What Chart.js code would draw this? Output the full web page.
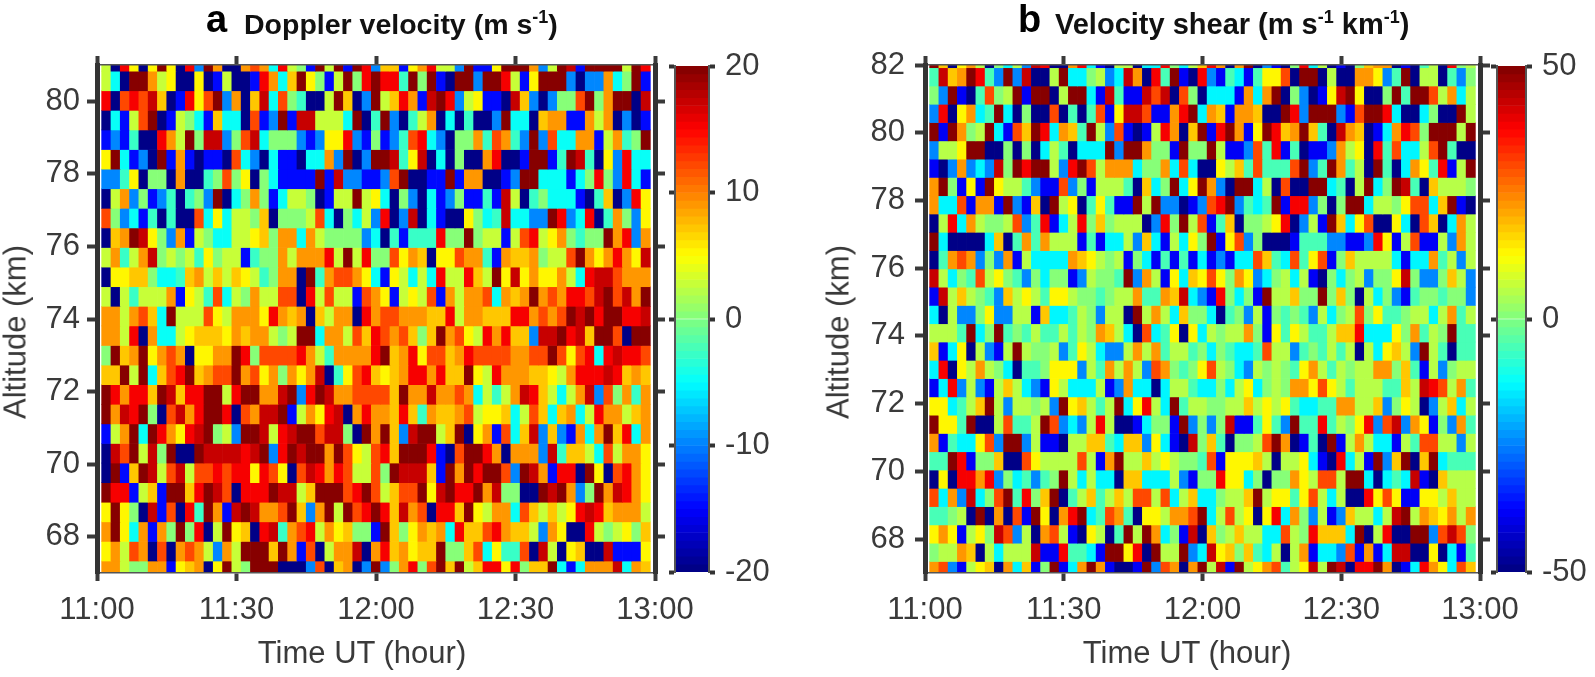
<!DOCTYPE html>
<html>
<head>
<meta charset="utf-8">
<title>Doppler velocity and velocity shear</title>
<script src="https://cdn.jsdelivr.net/npm/chart.js@4/dist/chart.umd.min.js"></script>
<style>
  html, body { margin: 0; padding: 0; background: #fff; }
  body { position: relative; width: 1595px; height: 677px; overflow: hidden; font-family: "Liberation Sans", Arial, sans-serif; }
  canvas { position: absolute; top: 0; }
  .txt { position: absolute; white-space: nowrap; line-height: 1; }
  .letter { font-size: 38px; font-weight: bold; color: #000; }
  .head { font-size: 28.5px; font-weight: bold; color: #111; }
  .head sup { font-size: 18px; line-height: 0; vertical-align: 11px; }
  .axis { font-size: 31px; color: #3a3a3a; }
  .rot { transform: translate(-50%, -50%) rotate(-90deg); }
  .mid { transform: translateX(-50%); }
</style>
</head>
<body>
<canvas id="velocity" width="700" height="677" style="left:0"></canvas>
<canvas id="velocity-bar" width="110" height="677" style="left:668px"></canvas>
<canvas id="shear" width="700" height="677" style="left:820px"></canvas>
<canvas id="shear-bar" width="105" height="677" style="left:1490px"></canvas>

<div class="txt letter" style="left:206px;top:0px">a</div>
<div class="txt head" style="left:244px;top:10px">Doppler velocity (m s<sup>-1</sup>)</div>
<div class="txt letter" style="left:1018px;top:0px">b</div>
<div class="txt head" style="left:1055px;top:10px;font-size:29px">Velocity shear (m s<sup>-1</sup> km<sup>-1</sup>)</div>
<div class="txt axis rot" style="left:15px;top:332px">Altitude (km)</div>
<div class="txt axis rot" style="left:838px;top:332px">Altitude (km)</div>
<div class="txt axis mid" style="left:362px;top:637px">Time UT (hour)</div>
<div class="txt axis mid" style="left:1187px;top:637px">Time UT (hour)</div>

<script>
"use strict";

// Minutes after 11:00 at the centre of each 2-minute column.
const timeMinutes = [2,4,6,8,10,12,14,16,18,20,22,24,26,28,30,32,34,36,38,40,42,44,46,48,50,52,54,56,58,60,
  62,64,66,68,70,72,74,76,78,80,82,84,86,88,90,92,94,96,98,100,102,104,106,108,110,112,114,116,118];
const xTickLabels = ["11:00", "11:30", "12:00", "12:30", "13:00"];
const velocityTicks = [68, 70, 72, 74, 76, 78, 80];
const shearTicks = [68, 70, 72, 74, 76, 78, 80, 82];
const barLevels = [0,1,2,3,4,5,6,7,8,9,10,11,12,13,14,15,16,17,18,19,20,21,22,23,24,25,26,27,28,29,30,31,
  32,33,34,35,36,37,38,39,40,41,42,43,44,45,46,47,48,49,50,51,52,53,54,55,56,57,58,59,60,61,62,63];

// Range-gate centres (km), top row first.
const velocityAltitudes = [81.10,80.56,80.02,79.48,78.94,78.40,77.86,77.32,76.78,76.24,75.70,75.16,74.62,74.08,
  73.54,73.00,72.46,71.92,71.38,70.84,70.30,69.76,69.22,68.68,68.14,67.60,67.06];
const shearAltitudes = [82.19,81.65,81.11,80.57,80.03,79.49,78.95,78.41,77.87,77.33,76.79,76.25,75.71,75.17,74.63,
  74.09,73.55,73.01,72.47,71.93,71.39,70.85,70.31,69.77,69.23,68.69,68.15,67.61,67.07];

// Doppler velocity (m/s), one line per altitude, top first.
const velocityValues = [
  [3,-20,15,5,-20,5,20,5,-20,15,-10,20,9,-20,-20,9,12,9,-5,15,3,0,-15,20,3,20,-15,20,15,-10,7,7,-15,5,9,15,3,3,-10,20,-15,-15,5,20,20,20,9,-10,3,20,17,-15,20,20,20,20,3,20,15],
  [3,-5,-20,20,20,9,3,5,-20,-20,5,-20,-15,3,-20,-20,-15,15,9,-5,7,20,5,0,-15,3,20,0,15,20,15,15,-3,20,0,20,-15,-20,20,20,-10,20,20,15,3,-15,5,20,20,20,-10,-20,-10,-10,9,-5,0,20,-15],
  [15,-20,12,15,12,17,7,-20,-15,15,5,12,20,-10,9,-20,7,17,-5,12,0,-3,-20,-20,3,20,7,-20,-10,20,3,7,15,9,-15,17,20,15,-10,3,5,-15,-15,-20,17,7,-10,-20,-10,0,0,12,20,0,9,20,20,-20,17],
  [-20,-5,-15,3,12,20,-20,-15,3,0,-5,-15,7,-5,-5,-20,12,-15,-10,20,-15,17,17,3,3,3,-5,20,-20,-3,20,-10,-20,-3,3,9,-20,-5,-20,-3,-20,-20,-10,20,-5,-5,-20,7,9,9,-15,-15,9,3,9,-20,-10,-20,-15],
  [-15,-10,-15,-3,-20,-20,15,9,3,20,0,17,17,-10,0,12,17,-5,0,0,0,-10,-15,-10,5,5,15,-10,-15,0,-15,-10,-3,12,15,-5,-10,-20,0,0,9,-3,12,9,-3,-10,20,-10,12,-5,-5,9,9,-15,3,9,-3,0,20],
  [5,20,-5,-15,-10,-20,20,-15,9,-15,-20,-15,-15,-20,12,-5,-10,-20,-5,-15,-15,-20,-5,-5,9,-10,20,-20,-10,20,20,17,-3,5,17,-20,-5,-20,0,-20,-20,9,15,-20,-20,-15,20,20,-15,-3,20,17,-3,-20,5,-10,15,-5,-5],
  [-10,-10,-3,5,-20,0,0,-20,9,-20,-20,-3,0,12,0,5,-20,0,-5,-15,-15,-15,-15,20,-15,17,-10,-10,-15,-15,-10,12,20,-20,-20,-15,-15,20,-15,9,9,-20,-20,-15,-10,20,20,-5,-5,-5,-15,-5,0,15,0,-10,15,-5,-15],
  [-20,3,9,-10,0,-15,-10,-3,-20,-3,0,-10,20,-20,-5,0,9,0,-15,-5,3,3,0,-20,-15,3,3,20,3,5,-5,-20,0,-10,-20,-5,-15,-10,0,-15,-15,-3,-15,17,3,-20,-3,0,-5,-5,-5,-15,-20,-3,7,-20,-10,15,5],
  [12,0,-10,-5,-15,-3,-20,-3,-20,-20,12,-5,5,-5,3,3,0,7,-20,0,0,0,3,12,-5,-20,0,-5,3,-10,15,-20,-10,17,-20,-5,-15,-20,-20,5,0,-5,-3,17,-5,-5,-10,-10,20,15,-10,-5,15,-20,-3,9,0,-10,5],
  [-20,7,9,20,17,5,0,-10,9,-15,3,0,-5,-5,3,3,5,7,0,9,9,-5,9,3,0,0,0,0,-10,-5,-20,-3,-15,-3,-3,-3,15,0,0,20,0,3,3,-15,3,12,15,3,5,9,0,-3,0,0,20,9,15,-10,9],
  [3,9,-3,3,9,17,0,3,0,3,-3,5,0,3,3,-15,-3,0,0,9,3,9,9,9,15,3,20,3,15,0,0,12,5,9,7,-20,5,5,12,9,9,-3,-15,9,7,7,9,0,3,3,12,20,9,5,9,15,9,5,17],
  [-20,5,5,7,7,0,-5,-5,-3,7,9,3,7,3,7,5,3,-3,0,9,9,-20,20,-3,9,12,12,9,5,-5,-15,5,3,-5,3,-5,15,3,3,15,7,3,20,5,17,5,9,5,5,9,3,-5,15,17,17,12,9,9,9],
  [3,-20,3,-3,3,3,3,9,-15,5,3,-3,12,-5,3,0,9,3,3,12,12,-20,15,3,12,3,3,-15,12,9,5,-15,3,5,3,12,-15,9,3,9,9,12,-5,9,7,9,20,9,12,9,15,15,12,17,20,12,17,9,20],
  [9,9,3,9,12,7,-5,20,3,3,3,12,5,3,9,9,9,5,15,9,7,9,-20,7,3,9,9,-20,15,9,12,12,9,9,9,7,7,15,3,9,9,7,7,7,15,15,9,12,9,12,20,17,20,15,20,20,15,15,17],
  [9,9,3,15,-20,9,-5,-5,3,5,7,7,7,5,9,7,9,9,3,0,3,20,20,-5,9,9,3,12,7,15,12,9,12,7,0,7,20,9,12,5,3,15,9,15,7,7,-10,17,17,20,15,17,7,20,20,12,-20,20,20],
  [0,20,7,9,20,5,9,12,9,-20,5,5,9,9,20,15,0,12,12,12,12,15,9,3,-3,9,9,9,9,15,20,7,9,15,5,12,12,7,9,15,12,12,12,12,9,9,12,12,20,12,5,12,15,-5,15,17,15,15,12],
  [7,7,20,3,20,-5,7,12,15,20,7,9,12,12,20,9,12,5,9,0,9,5,9,17,-20,-3,5,12,15,7,5,7,9,15,15,9,15,7,7,20,5,3,15,9,9,9,7,7,5,3,9,15,15,15,17,15,7,9,7],
  [20,15,9,15,15,7,20,17,7,15,15,20,20,3,15,20,20,9,9,17,20,-10,15,20,17,9,9,12,12,12,12,7,20,9,9,17,9,9,12,9,-5,3,-3,3,9,17,15,7,3,-5,3,9,17,-10,12,0,9,-3,9],
  [20,9,17,15,20,0,-20,12,17,9,15,20,20,15,-20,12,9,17,17,20,-15,3,9,5,15,17,-20,9,15,9,9,7,15,7,-3,9,7,7,9,12,3,5,5,7,-5,3,12,7,-5,7,9,-5,3,15,9,9,3,7,9],
  [-15,3,9,20,-5,20,15,9,5,15,17,20,0,3,-10,20,20,17,3,15,17,20,20,12,17,17,0,-20,20,9,20,7,-10,17,20,20,3,7,20,-20,5,9,-15,12,-5,7,17,-10,7,-10,-15,9,-5,9,20,7,15,-5,9],
  [-20,17,12,20,3,17,0,20,-20,-20,20,17,17,17,17,15,17,20,-10,15,20,17,20,20,9,20,12,5,3,12,15,7,20,20,20,15,-15,-20,12,20,20,15,9,-20,9,9,9,-10,17,-3,7,7,3,-5,12,3,9,9,5],
  [-20,20,-15,7,20,17,3,12,17,3,12,12,15,12,15,15,5,15,12,5,-20,12,17,15,9,15,12,3,3,12,0,20,17,17,17,7,-15,20,9,20,15,20,20,12,-10,20,17,9,-15,15,15,-20,20,5,-20,12,15,9,5],
  [20,15,15,-15,3,7,-15,20,20,7,15,20,17,12,-20,15,15,15,20,17,17,3,7,20,20,20,12,15,20,12,3,7,12,12,20,5,17,20,15,15,20,9,17,0,0,-20,-20,20,17,20,9,-10,0,20,9,17,15,9,5],
  [5,20,5,0,-20,17,-15,12,-20,15,-3,20,9,-15,17,20,17,9,9,12,20,7,-10,9,20,3,20,12,15,20,15,7,17,9,12,-20,15,15,7,20,5,3,9,9,-5,12,7,3,7,3,5,15,17,15,7,9,9,9,3],
  [9,20,5,-5,9,-15,9,0,20,0,15,-20,3,20,5,7,-20,15,17,-3,9,12,15,3,9,5,7,0,0,-15,20,7,0,5,9,7,9,-5,15,7,7,12,15,9,7,7,3,-10,9,5,-20,-20,15,3,0,3,5,0,7],
  [5,9,3,12,9,-20,12,-20,9,12,9,3,-10,9,3,20,20,20,7,20,9,-15,12,-20,3,9,9,17,-20,9,15,7,9,5,7,7,20,0,0,7,12,-5,5,-3,-3,12,-20,17,3,-20,5,7,-20,-20,17,-15,-15,-15,5],
  [9,9,3,0,0,9,9,-15,5,7,9,-20,5,20,3,0,20,20,20,-20,-20,-20,-10,12,-20,7,9,-20,-10,20,-10,0,9,15,0,12,20,7,20,3,7,15,15,5,15,0,7,7,20,-5,-15,-5,9,9,9,17,-5,9,7]
];

// Velocity shear (m/s/km), one line per altitude, top first.
const shearValues = [
  [50,18,-50,13,23,6,-50,0,-13,6,-25,43,38,-50,-50,23,38,-13,-38,-50,6,6,-50,-13,-13,38,0,-13,6,18,38,23,-50,23,50,-50,-25,-38,-50,0,38,-13,6,-50,-38,-50,0,18,23,23,-50,-38,-50,-6,6,-50,38,0,6],
  [-6,43,18,23,50,38,-6,-25,50,-25,43,-50,-50,6,50,-13,-13,0,6,-25,-13,43,23,-50,38,-6,50,-38,-50,38,-25,-38,-6,-13,-38,-6,13,13,30,-50,50,50,-50,6,-50,-50,23,23,13,-25,-6,50,-50,6,6,-50,-6,-25,0],
  [0,-25,50,-38,-50,-6,30,0,6,50,-38,50,50,-50,6,50,50,-13,-38,43,-6,-38,-38,43,30,43,-50,30,0,-50,-13,-13,-13,-38,23,-13,23,50,-50,0,-25,-50,-38,13,43,50,13,-50,-50,0,50,-6,50,50,30,6,23,-13,6],
  [-25,38,-50,13,23,-13,-6,50,-13,-50,0,-50,-50,30,-50,-6,-50,-6,30,-38,13,43,43,30,-38,-38,23,38,50,-13,23,18,-38,23,23,18,-50,-50,50,38,-25,50,50,50,-25,-38,30,50,50,38,-13,-50,-50,-13,0,-50,-50,50,6],
  [50,-38,50,23,0,6,50,-13,-38,30,18,50,38,-13,23,18,-6,50,6,-25,30,-38,-50,-38,6,38,23,-50,18,50,-38,38,50,23,-38,13,50,38,18,23,50,18,-6,-50,43,23,18,-50,-38,-13,23,38,30,0,50,50,50,6,50],
  [-25,6,6,13,50,50,-50,-50,0,-50,0,-50,-13,6,-6,-50,-13,-13,-13,50,-25,50,50,23,0,0,-38,50,0,0,50,6,-38,-38,-25,30,-6,38,-38,-6,-50,-38,-38,-25,23,6,13,-50,38,-6,30,-13,-13,6,30,50,-6,-50,-50],
  [-38,-50,-25,23,-25,-13,-25,43,0,50,38,50,50,6,-25,38,50,30,6,23,23,23,-13,0,0,23,-13,30,-13,-50,-50,13,6,18,-6,30,-6,-6,-6,30,50,-25,-6,50,23,-6,6,-50,50,-6,-50,-13,23,13,-6,38,-38,6,50],
  [23,50,0,-38,13,-38,50,13,6,6,-6,-25,-38,-38,30,-25,0,-38,6,6,6,-6,-50,18,-13,0,50,-13,13,50,23,-25,-50,50,50,-13,6,-50,30,-50,-50,50,50,-13,-6,-50,6,50,-13,0,50,43,-6,-50,18,6,6,6,0],
  [23,-13,-13,30,-38,23,23,-38,50,-25,-38,18,-50,50,6,13,-50,-6,13,-6,-38,-38,50,6,50,-25,-25,-50,-38,-25,30,38,50,-25,-6,-13,-6,50,-38,38,38,-25,0,-50,0,50,50,-13,6,6,0,13,30,30,-13,18,50,-38,-50],
  [-50,6,38,-13,23,6,0,0,6,30,-25,-6,38,-38,-13,6,38,0,18,0,6,6,6,-50,-25,38,0,50,6,30,-38,-6,18,-50,0,0,6,13,38,-50,-25,6,-38,50,18,-13,13,30,-50,-50,13,-13,-50,30,18,-50,-13,23,6],
  [50,-13,-50,-50,-50,-50,-13,18,-50,-6,23,-6,23,6,6,6,-38,-6,-38,-13,-13,6,-25,18,-13,-38,6,-13,13,0,50,-38,13,30,-25,0,-50,-50,-50,-38,-6,-6,-6,-25,-25,-38,-38,-25,38,13,-38,6,30,-38,-38,6,-25,23,6],
  [-50,-6,23,30,23,-25,0,-25,23,-38,6,-13,-13,-13,-13,23,18,13,6,0,6,-38,0,-13,-38,-6,-38,-6,-38,-13,-38,-25,-38,-13,-13,30,18,-6,-13,30,-6,13,30,-38,0,18,6,6,6,6,-13,-38,-13,-13,23,-6,6,-25,6],
  [43,6,-13,0,-6,30,6,13,0,-6,-25,0,-13,0,0,-38,-25,6,0,0,-6,50,-25,23,6,-38,13,-13,18,13,30,13,0,23,13,-25,-13,0,6,-13,6,-38,-50,0,-13,0,6,-25,0,0,13,43,0,-25,-25,0,18,6,-25],
  [-38,43,6,18,6,0,-6,-25,18,6,13,6,-6,13,13,6,0,0,-6,0,6,6,23,-6,-6,23,18,43,-13,-25,-38,38,0,-13,0,-38,50,6,6,18,0,0,50,0,18,0,-50,6,-13,0,-25,-38,-6,0,0,-6,0,0,-25],
  [-13,-50,6,-25,-25,0,13,-25,-25,6,6,-38,18,-13,-13,-6,6,0,-25,6,6,-50,50,6,23,6,-13,18,0,0,-13,-50,-6,0,-25,6,-38,0,-6,0,-6,-25,6,-13,0,6,30,0,13,-6,-6,0,6,6,-13,6,23,-6,6],
  [6,6,6,-6,50,-13,0,50,-6,0,-6,6,-6,-6,6,-6,6,0,23,18,6,-13,-50,30,-13,-6,13,-50,13,-13,6,0,6,6,23,0,-38,13,-6,13,6,-6,-6,6,18,18,38,-13,-13,-13,13,0,23,-6,6,0,50,-6,-6],
  [18,-38,-13,13,-50,6,-25,-38,6,50,6,0,0,6,-25,-6,13,6,-13,-25,-25,6,23,6,23,-6,6,6,-6,0,-13,0,-6,-13,-13,-6,30,6,6,-25,-6,0,-6,6,-6,6,-50,6,-13,13,18,6,-25,50,6,-6,-50,-6,-6],
  [-13,38,-50,13,6,23,6,0,-13,-50,-6,-6,0,13,13,13,-25,6,-6,23,6,23,6,-25,30,23,0,-6,0,13,30,6,0,-13,-25,6,0,6,0,-6,13,23,6,-6,6,0,6,6,23,23,0,18,-6,-38,6,-25,0,6,6],
  [-38,-13,38,-25,6,-25,-38,6,18,6,-13,-25,-38,13,6,-13,-13,-13,6,-38,-25,23,-13,-13,-50,-13,6,6,-6,-13,-13,0,-13,6,13,-13,0,6,0,23,23,13,30,13,6,-6,6,6,6,-6,-6,18,6,43,38,30,6,23,-6],
  [13,13,-13,-6,6,18,50,6,-25,6,6,0,6,-25,50,13,18,6,-6,6,50,-13,13,38,6,-13,50,-6,6,6,0,0,6,6,18,6,13,6,13,-6,-13,-13,-6,-6,23,23,6,6,18,-25,0,13,6,-50,-25,6,18,-13,6],
  [50,13,13,-6,50,-50,-50,6,30,-6,-6,6,50,30,-25,-13,-25,6,38,6,-50,-50,-38,-13,0,0,-38,50,-25,0,-25,0,43,-38,-38,-6,13,-6,-25,50,-6,-6,38,-6,6,0,13,38,-25,30,43,-25,23,13,-38,0,-25,23,-6],
  [23,-38,-6,-13,-13,13,30,-25,50,50,-25,6,-38,-38,-50,6,6,18,18,-6,-13,18,18,-25,13,-13,-38,-50,43,0,18,-6,-50,0,0,6,30,50,23,-50,-38,-6,-50,50,-38,6,23,6,-13,-13,-38,6,-6,30,30,6,6,-25,6],
  [-6,-6,50,38,-38,0,0,18,-50,-50,30,13,6,6,6,6,30,6,-38,23,50,6,6,18,6,13,6,0,0,-6,30,-38,13,13,13,18,6,-50,6,6,13,-13,-38,-50,38,-13,6,-38,50,-25,18,50,-50,18,50,-13,-6,-6,-6],
  [-50,13,-50,38,38,23,38,-25,0,-13,-6,-25,-6,0,50,6,-13,6,-13,-13,-50,18,18,-13,-13,-13,6,-25,-38,0,0,38,13,13,-13,0,-50,0,0,23,13,6,30,30,6,50,50,-13,-50,-13,-6,-13,43,-38,-50,18,6,6,6],
  [30,-13,23,-25,43,-13,0,30,50,-6,38,0,18,50,-50,-6,6,18,-6,6,18,6,30,30,6,30,-13,6,18,-13,-13,0,6,6,18,50,6,13,13,-6,13,30,6,-13,6,-50,-50,38,13,30,13,-38,-38,13,13,6,18,6,6],
  [-6,-6,0,6,-50,50,-50,23,-50,30,-38,50,13,-50,23,38,50,-13,-6,30,23,-6,-50,13,13,6,23,23,30,50,-13,6,30,6,13,-50,13,38,-13,23,0,-25,6,-38,-25,18,6,6,-13,6,43,50,6,23,18,13,23,6,23],
  [13,23,13,-38,6,13,0,43,30,-25,6,-50,23,30,6,-38,-50,13,6,-50,-6,50,6,50,23,-13,0,-38,43,-50,18,0,6,18,6,6,-13,-13,30,6,0,38,18,18,18,-13,50,-50,6,38,-50,-50,50,50,-25,30,43,30,0],
  [0,6,6,23,18,-50,6,-13,6,6,6,43,-38,-38,38,-6,-6,-13,-38,50,50,13,38,-50,50,6,6,50,-25,-13,43,13,18,0,18,-6,-13,6,-50,6,23,-38,-13,-13,-25,30,-38,23,-38,-13,43,43,-50,-50,13,-50,-13,-38,-6],
  [23,30,-25,-38,6,13,18,-50,23,-13,18,-38,0,50,-38,-13,23,50,23,-38,-50,-50,-38,50,-25,30,23,-50,23,50,6,43,-38,50,6,13,23,30,-6,6,13,43,6,50,43,-50,38,38,50,23,-50,-38,-13,38,23,13,-13,30,18]
];

// MATLAB-style jet, 64 steps.
function jet(x) {
  const ch = (c) => Math.round(255 * Math.max(0, Math.min(1, 1.5 - Math.abs(4 * x - c))));
  return `rgb(${ch(3)},${ch(2)},${ch(1)})`;
}

function valueColor(v, vmax) {
  const i = Math.max(0, Math.min(63, Math.floor(((v + vmax) / (2 * vmax)) * 64)));
  return jet((i + 0.5) / 64);
}

const inkColor = "#3a3a3a";
const axisFont = { family: '"Liberation Sans", Arial, sans-serif', size: 31 };
const off = { legend: { display: false }, tooltip: { enabled: false }, title: { display: false } };

// Fixes the axis box and drops the label overhang so the plot area lands where it should.
function forcedSize(prop, px) {
  return (scale) => {
    scale[prop] = px;
    scale.paddingLeft = scale.paddingRight = scale.paddingTop = scale.paddingBottom = 0;
  };
}

function fixedTicks(values) {
  return (scale) => { scale.ticks = values.map((value) => ({ value })); };
}

function edgeAxis(extra) {
  return Object.assign({
    offset: false,
    border: { display: true, color: "#555", width: 1.5, z: 1 },
  }, extra);
}

function xGrid(length) {
  // bar charts default to offset grid lines; ticks must sit on the values here.
  return { offset: false, drawOnChartArea: false, color: inkColor, tickColor: inkColor, tickWidth: 4, tickLength: length, z: 1 };
}

function heatmap(id, altitudes, rows, vmax, yMin, yMax, yTicks, box) {
  const datasets = rows.map((row, r) => ({
    data: timeMinutes.map((t) => ({ x: t, y: [altitudes[r] - 0.27, altitudes[r] + 0.27] })),
    backgroundColor: row.map((v) => valueColor(v, vmax)),
    borderWidth: 0,
    grouped: false,
    barPercentage: 1,
    categoryPercentage: 1,
  }));
  const xTicks = { stepSize: 30, autoSkip: false, maxRotation: 0, color: inkColor, font: axisFont, padding: box.xPad,
    callback: (v) => xTickLabels[v / 30] };
  const yGrid = { drawOnChartArea: false, color: inkColor, tickColor: inkColor, tickWidth: 4, z: 1 };
  const yBorder = { color: "#333", width: 5, z: 1 };
  new Chart(document.getElementById(id), {
    type: "bar",
    data: { datasets },
    options: {
      responsive: false,
      animation: false,
      events: [],
      layout: { padding: 0 },
      plugins: off,
      scales: {
        x: edgeAxis({ type: "linear", position: "bottom", min: 0, max: 120, ticks: xTicks,
          grid: xGrid(8), afterFit: forcedSize("height", 104) }),
        xTop: edgeAxis({ axis: "x", type: "linear", position: "top", min: 0, max: 120,
          ticks: { stepSize: 30, display: false },
          grid: xGrid(9), afterFit: forcedSize("height", 65) }),
        y: { type: "linear", position: "left", min: yMin, max: yMax, grid: Object.assign({ tickLength: 10 }, yGrid), border: yBorder,
          afterBuildTicks: fixedTicks(yTicks),
          ticks: { autoSkip: false, color: inkColor, font: axisFont, padding: box.yPad },
          afterFit: forcedSize("width", box.left) },
        yRight: { axis: "y", type: "linear", position: "right", min: yMin, max: yMax, grid: Object.assign({ tickLength: 10 }, yGrid), border: yBorder,
          afterBuildTicks: fixedTicks(yTicks),
          ticks: { display: false },
          afterFit: forcedSize("width", box.right) },
      },
    },
  });
}

function colorbar(id, vmax, step) {
  const band = (2 * vmax) / barLevels.length;
  const cbGrid = { drawOnChartArea: false, color: inkColor, tickColor: "#333", tickWidth: 4, tickLength: 6, z: 1 };
  const cbBorder = { color: "#555", width: 2, z: 1 };
  new Chart(document.getElementById(id), {
    type: "bar",
    data: { datasets: [{
      data: barLevels.map((i) => ({ x: 0.5, y: [-vmax + i * band, -vmax + (i + 1) * band] })),
      backgroundColor: barLevels.map((i) => jet((i + 0.5) / barLevels.length)),
      borderWidth: 0,
      grouped: false,
      barThickness: 34,
    }] },
    options: {
      responsive: false,
      animation: false,
      events: [],
      layout: { padding: { top: 66, bottom: 105 } },
      plugins: off,
      scales: {
        x: { type: "linear", display: false, min: 0, max: 1, ticks: { stepSize: 1 } },
        yLeft: { axis: "y", type: "linear", position: "left", min: -vmax, max: vmax, grid: cbGrid, border: cbBorder,
          ticks: { stepSize: step, display: false }, afterFit: forcedSize("width", 7) },
        y: { type: "linear", position: "right", min: -vmax, max: vmax, grid: cbGrid, border: cbBorder,
          ticks: { stepSize: step, autoSkip: false, color: inkColor, font: axisFont, padding: 10 },
          afterFit: forcedSize("width", 69) },
      },
    },
  });
}

heatmap("velocity", velocityAltitudes, velocityValues, 20, 67, 81, velocityTicks, { left: 97, right: 45, xPad: 11, yPad: 7 });
heatmap("shear", shearAltitudes, shearValues, 50, 67, 82, shearTicks, { left: 105, right: 40, xPad: 11, yPad: 10 });
colorbar("velocity-bar", 20, 10);
colorbar("shear-bar", 50, 50);
</script>
</body>
</html>
